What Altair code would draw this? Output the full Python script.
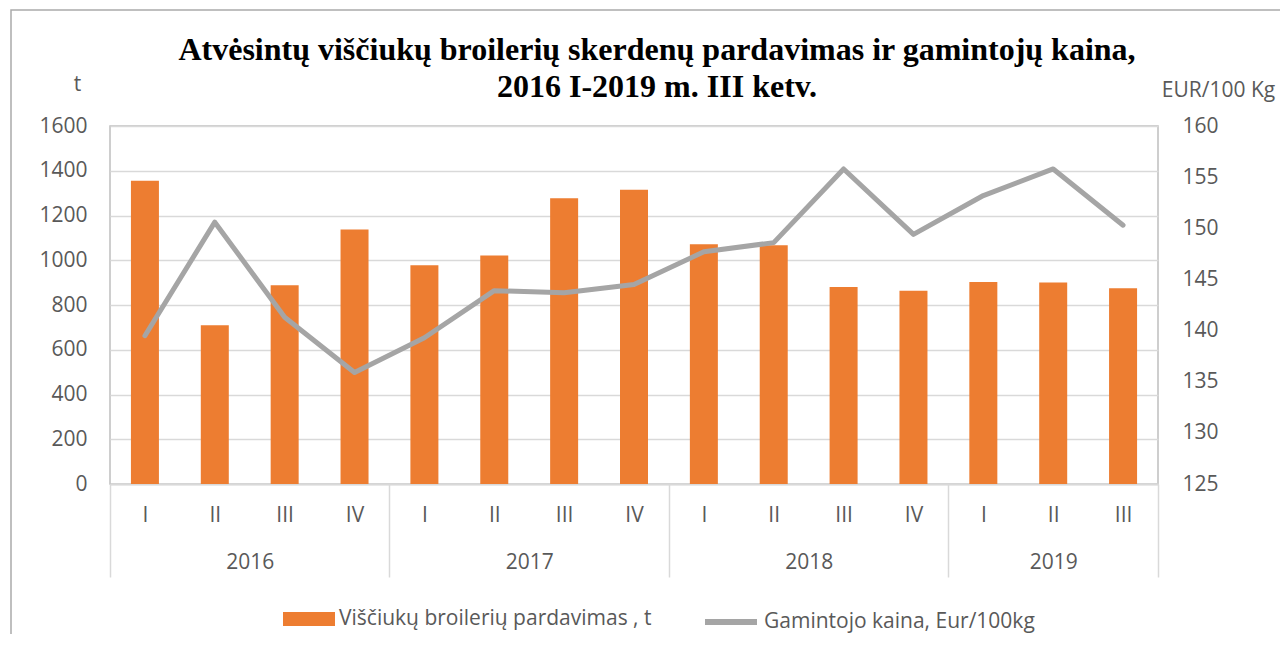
import altair as alt
import pandas as pd

# ---- data ----
quarters = ["I", "II", "III", "IV", "I", "II", "III", "IV", "I", "II", "III", "IV", "I", "II", "III"]
years = ["2016", "2016", "2016", "2016", "2017", "2017", "2017", "2017",
         "2018", "2018", "2018", "2018", "2019", "2019", "2019"]
sales = [1355, 709, 888, 1137, 978, 1021, 1277, 1315, 1072, 1067, 880, 864, 903, 901, 875]
price = [139.5, 150.6, 141.3, 135.9, 139.3, 143.9, 143.7, 144.5, 147.7, 148.6,
         155.8, 149.4, 153.2, 155.8, 150.3]
year_names = ["2016", "2017", "2018", "2019"]
bar_series = "Viščiukų broilerių pardavimas , t"
line_series = "Gamintojo kaina, Eur/100kg"
title_lines = ["Atvėsintų viščiukų broilerių skerdenų pardavimas ir gamintojų kaina,",
               "2016 I-2019 m. III ketv."]

idx = list(range(len(quarters)))
df = pd.DataFrame({"idx": idx, "quarter": quarters, "year": years,
                   "sales": sales, "price": price})
df["bar_s"] = bar_series
df["line_s"] = line_series

# year centres and boundaries derived from the year list
year_pos = {}
for i, y in enumerate(years):
    year_pos.setdefault(y, []).append(i)
year_centers = [(min(v) + max(v)) / 2 for v in year_pos.values()]
bounds = [-0.5] + [max(v) + 0.5 for v in year_pos.values()]

FONT = "Open Sans"
TXT = "#595959"
FS = 21

q_expr = "[" + ",".join("'%s'" % q for q in quarters) + "][datum.value]"
y_expr = ""
for c, yname in zip(year_centers, year_names):
    y_expr += "datum.value == %s ? '%s' : " % (c, yname)
y_expr += "''"

xscale = alt.Scale(domain=[-0.5, len(quarters) - 0.5], nice=False, zero=False, padding=0)

bars = alt.Chart(df).mark_bar(size=28, color="#ED7D31").encode(
    x=alt.X("idx:Q", scale=xscale,
            axis=alt.Axis(orient="bottom", values=idx, labelExpr=q_expr, domain=True,
                          domainColor="#D9D9D9", domainWidth=2, ticks=False, tickSize=0,
                          grid=False, labelPadding=31, labelBaseline="middle", labelFont=FONT,
                          labelFontSize=FS, labelColor=TXT, labelFlush=False,
                          labelOverlap=False, title=None)),
    y=alt.Y("sales:Q", scale=alt.Scale(domain=[0, 1600], nice=False, padding=0),
            axis=alt.Axis(values=list(range(0, 1601, 200)), format="d", grid=True,
                          gridColor="#D9D9D9", gridWidth=1.5, domain=False, ticks=False,
                          labelPadding=23, labelFont=FONT, labelFontSize=FS, labelColor=TXT,
                          title="t", titleAngle=0, titleX=-33, titleY=-42,
                          titleAlign="center", titleBaseline="middle", titleFont=FONT,
                          titleFontSize=FS, titleFontWeight="normal", titleColor=TXT)),
    color=alt.Color("bar_s:N", scale=alt.Scale(range=["#ED7D31"]),
                    legend=alt.Legend(orient="none", legendX=173, legendY=467, title=None,
                                      symbolType="M-1,-0.27H1V0.27H-1Z", symbolSize=2704,
                                      symbolStrokeWidth=0, labelFont=FONT, labelFontSize=FS,
                                      labelColor=TXT, labelOffset=4, labelLimit=600, padding=0)),
)

line = alt.Chart(df).mark_line(strokeWidth=5, color="#A5A5A5", strokeCap="round",
                               strokeJoin="round").encode(
    x=alt.X("idx:Q", scale=xscale,
            axis=alt.Axis(orient="bottom", values=year_centers, labelExpr=y_expr, domain=False,
                          ticks=False, tickSize=0, grid=False, labelPadding=78,
                          labelBaseline="middle", labelFont=FONT, labelFontSize=FS,
                          labelColor=TXT, labelFlush=False, labelOverlap=False, title=None)),
    y=alt.Y("price:Q", scale=alt.Scale(domain=[125, 160], nice=False, zero=False, padding=0),
            axis=alt.Axis(orient="right", values=list(range(125, 161, 5)), grid=False,
                          domain=False, ticks=False, labelPadding=24, labelFont=FONT,
                          labelFontSize=FS, labelColor=TXT,
                          title="EUR/100 Kg", titleAngle=0, titleX=60, titleY=-36,
                          titleAlign="center", titleBaseline="middle", titleFont=FONT,
                          titleFontSize=FS, titleFontWeight="normal", titleColor=TXT)),
    color=alt.Color("line_s:N", scale=alt.Scale(range=["#A5A5A5"]),
                    legend=alt.Legend(orient="none", legendX=592, legendY=467, title=None,
                                      symbolType="stroke", symbolSize=2704,
                                      symbolStrokeWidth=6, labelFont=FONT, labelFontSize=FS,
                                      labelColor=TXT, labelOffset=4, labelLimit=600, padding=0)),
)

sep = alt.Chart(df).mark_point(opacity=0).encode(
    x=alt.X("idx:Q", scale=xscale,
            axis=alt.Axis(orient="bottom", values=bounds, labels=False, ticks=True,
                          tickSize=93, tickColor="#D9D9D9", tickWidth=1.5, domain=False,
                          grid=False, title=None)),
    y=alt.Y("sales:Q", axis=None),
)

one = pd.DataFrame({"a": [0]})

frame = alt.Chart(one).mark_rect(
    fill=None, stroke="#ABABAB", strokeWidth=1.5).encode(
    x=alt.value(-99), y=alt.value(-116), x2=alt.value(1400), y2=alt.value(800))

title = alt.Chart(one).mark_text(
    text=title_lines, font="Liberation Serif", fontSize=32, fontWeight="bold",
    color="#000000", align="center", baseline="top", lineHeight=37).encode(
    x=alt.value(547), y=alt.value(-91))

chart = alt.layer(bars, line, sep, frame, title).resolve_scale(
    y="independent", color="independent"
).resolve_axis(x="independent").properties(
    width=1048, height=358,
    padding={"left": 102, "top": 118, "right": 122, "bottom": 150},
    autosize=alt.AutoSizeParams(type="none"),
).configure_view(stroke="#BFBFBF", strokeWidth=1.5)

chart.save("out.html", embed_options={"renderer": "svg", "actions": False})
